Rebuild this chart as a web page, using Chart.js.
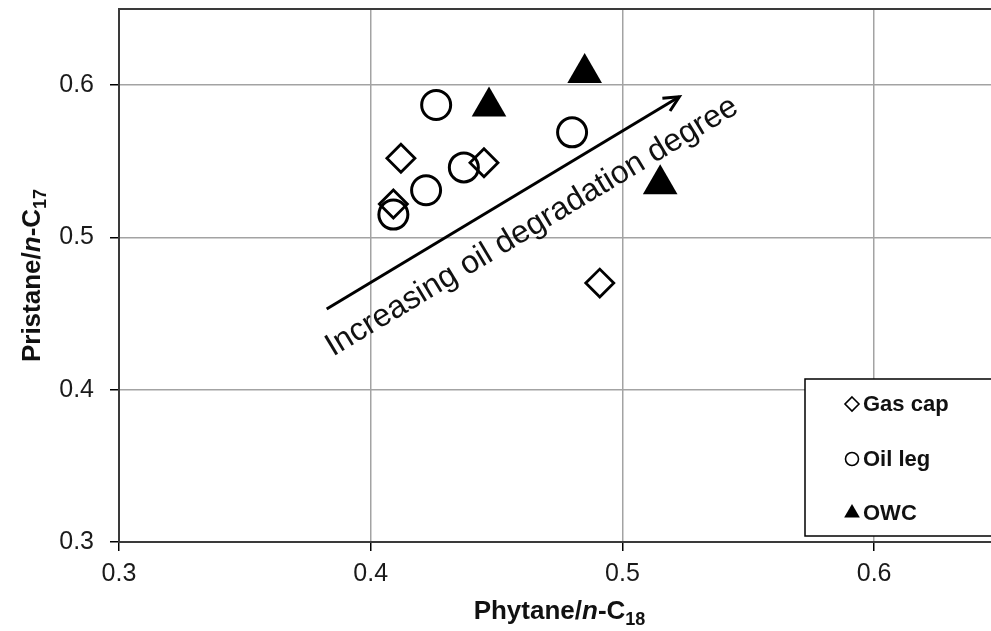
<!DOCTYPE html>
<html>
<head>
<meta charset="utf-8">
<script src="https://cdn.jsdelivr.net/npm/chart.js@4.4.1/dist/chart.umd.min.js"></script>
<style>
  html, body { margin: 0; padding: 0; background: #fff; overflow: hidden; }
  canvas { display: block; }
</style>
</head>
<body>
<canvas id="scatterChart" width="1010" height="631"></canvas>
<script>
// Phytane/n-C18 (x) vs Pristane/n-C17 (y)
const gasCapX = [0.412, 0.445, 0.409, 0.491];
const gasCapY = [0.552, 0.549, 0.522, 0.470];
const oilLegX = [0.426, 0.480, 0.437, 0.422, 0.409];
const oilLegY = [0.587, 0.569, 0.546, 0.531, 0.515];
const owcX = [0.447, 0.485, 0.515];
const owcY = [0.586, 0.608, 0.535];

// the trend arrow and its label
const arrowX = [0.3825, 0.5226];
const arrowY = [0.453, 0.5924];
const arrowLabel = 'Increasing oil degradation degree';
const labelAnchor = [0.385, 0.4216];

const seriesNames = ['Gas cap', 'Oil leg', 'OWC'];
const xTicks = [0.3, 0.4, 0.5, 0.6];
const yTicks = [0.3, 0.4, 0.5, 0.6];
const xRange = [0.3, 0.65];
const yRange = [0.3, 0.65];

const FONT = "'Liberation Sans', Arial, Helvetica, sans-serif";

const toPoints = (xs, ys) => xs.map((x, i) => ({ x, y: ys[i] }));

// draw text made of pieces (italic n, subscript numbers)
const richText = (ctx, parts, size) => {
  const fontOf = p => (p.italic ? 'italic ' : '') + 'bold ' + (p.sub ? Math.round(size * 0.68) : size) + 'px ' + FONT;
  let total = 0;
  parts.forEach(p => { ctx.font = fontOf(p); total += ctx.measureText(p.t).width; });
  let x = -total / 2;
  parts.forEach(p => {
    ctx.font = fontOf(p);
    ctx.fillText(p.t, x, p.sub ? size * 0.22 : 0);
    x += ctx.measureText(p.t).width;
  });
};

const marker = (ctx, style, x, y) => {
  ctx.beginPath();
  if (style === 'rectRot') {
    const r = 7;
    ctx.moveTo(x, y - r); ctx.lineTo(x + r, y); ctx.lineTo(x, y + r); ctx.lineTo(x - r, y); ctx.closePath();
    ctx.stroke();
  } else if (style === 'circle') {
    ctx.arc(x, y, 6.5, 0, Math.PI * 2);
    ctx.stroke();
  } else {
    const r = 9;
    ctx.moveTo(x, y - r); ctx.lineTo(x + r * 0.87, y + r * 0.5); ctx.lineTo(x - r * 0.87, y + r * 0.5); ctx.closePath();
    ctx.fill();
  }
};

const decorations = {
  id: 'decorations',
  afterDraw(chart) {
    const { ctx, chartArea, scales: { x, y } } = chart;
    ctx.save();

    // plot frame
    ctx.strokeStyle = '#3a3a3a';
    ctx.lineWidth = 2;
    ctx.strokeRect(chartArea.left, chartArea.top, chartArea.right - chartArea.left, chartArea.bottom - chartArea.top);

    // arrow head
    const x0 = x.getPixelForValue(arrowX[0]), y0 = y.getPixelForValue(arrowY[0]);
    const x1 = x.getPixelForValue(arrowX[1]), y1 = y.getPixelForValue(arrowY[1]);
    const ang = Math.atan2(y1 - y0, x1 - x0);
    ctx.strokeStyle = '#000';
    ctx.lineWidth = 3;
    ctx.beginPath();
    ctx.moveTo(x1 - 17 * Math.cos(ang - 0.45), y1 - 17 * Math.sin(ang - 0.45));
    ctx.lineTo(x1, y1);
    ctx.lineTo(x1 - 17 * Math.cos(ang + 0.45), y1 - 17 * Math.sin(ang + 0.45));
    ctx.stroke();

    // arrow label
    ctx.save();
    ctx.translate(x.getPixelForValue(labelAnchor[0]), y.getPixelForValue(labelAnchor[1]));
    ctx.rotate(ang);
    ctx.fillStyle = '#111';
    ctx.font = '32px ' + FONT;
    ctx.textBaseline = 'alphabetic';
    ctx.fillText(arrowLabel, 0, 0);
    ctx.restore();

    // axis titles
    ctx.fillStyle = '#111';
    ctx.textBaseline = 'alphabetic';
    ctx.save();
    ctx.translate((chartArea.left + chartArea.right) / 2, 619);
    richText(ctx, [{ t: 'Phytane/' }, { t: 'n', italic: true }, { t: '-C' }, { t: '18', sub: true }], 26);
    ctx.restore();
    ctx.save();
    ctx.translate(40, (chartArea.top + chartArea.bottom) / 2);
    ctx.rotate(-Math.PI / 2);
    richText(ctx, [{ t: 'Pristane/' }, { t: 'n', italic: true }, { t: '-C' }, { t: '17', sub: true }], 26);
    ctx.restore();

    // legend box
    const lx = 805, ly = 379, lh = 157;
    ctx.fillStyle = '#fff';
    ctx.fillRect(lx, ly, 220, lh);
    ctx.strokeStyle = '#000';
    ctx.lineWidth = 1.5;
    ctx.strokeRect(lx, ly, 220, lh);
    const styles = ['rectRot', 'circle', 'triangle'];
    const rows = [404, 459, 513];
    ctx.font = 'bold 22px ' + FONT;
    ctx.textBaseline = 'middle';
    seriesNames.forEach((name, i) => {
      ctx.strokeStyle = '#000';
      ctx.fillStyle = '#000';
      ctx.lineWidth = 1.6;
      marker(ctx, styles[i], 852, rows[i]);
      ctx.fillStyle = '#111';
      ctx.fillText(name, 863, rows[i] + 1);
    });

    ctx.restore();
  }
};

const ctx = document.getElementById('scatterChart').getContext('2d');
new Chart(ctx, {
  type: 'scatter',
  data: {
    datasets: [
      {
        label: 'Gas cap',
        data: toPoints(gasCapX, gasCapY),
        pointStyle: 'rectRot',
        pointRadius: 14,
        borderWidth: 2.8,
        borderColor: '#000',
        backgroundColor: 'rgba(0,0,0,0)',
      },
      {
        label: 'Oil leg',
        data: toPoints(oilLegX, oilLegY),
        pointStyle: 'circle',
        pointRadius: 14.5,
        borderWidth: 3,
        borderColor: '#000',
        backgroundColor: 'rgba(0,0,0,0)',
      },
      {
        label: 'OWC',
        data: toPoints(owcX, owcY),
        pointStyle: 'triangle',
        pointRadius: 20,
        borderWidth: 0,
        borderColor: '#000',
        backgroundColor: '#000',
      },
      {
        label: 'arrow',
        data: toPoints(arrowX, arrowY),
        showLine: true,
        pointRadius: 0,
        borderWidth: 3,
        borderColor: '#000',
      },
    ],
  },
  options: {
    responsive: false,
    animation: false,
    layout: { autoPadding: false, padding: { top: 9, right: 10, left: 0, bottom: 0 } },
    plugins: { legend: { display: false }, tooltip: { enabled: false } },
    scales: {
      x: {
        type: 'linear',
        min: xRange[0],
        max: xRange[1],
        afterBuildTicks: s => { s.ticks = xTicks.map(v => ({ value: v })); },
        afterFit: s => { s.height = 89; s.paddingLeft = 0; s.paddingRight = 0; },
        grid: { color: '#a3a3a3', lineWidth: 1.5, tickColor: '#000', tickLength: 9 },
        border: { color: '#000', width: 2 },
        ticks: { padding: 8, color: '#1a1a1a', font: { family: FONT, size: 25 }, callback: v => v.toFixed(1) },
      },
      y: {
        type: 'linear',
        min: yRange[0],
        max: yRange[1],
        afterBuildTicks: s => { s.ticks = yTicks.map(v => ({ value: v })); },
        afterFit: s => { s.width = 119; s.paddingTop = 0; s.paddingBottom = 0; },
        grid: { color: '#a3a3a3', lineWidth: 1.5, tickColor: '#000', tickLength: 9 },
        border: { color: '#000', width: 2 },
        ticks: { padding: 16, color: '#1a1a1a', font: { family: FONT, size: 25 }, callback: v => v.toFixed(1) },
      },
    },
  },
  plugins: [decorations],
});
</script>
</body>
</html>
